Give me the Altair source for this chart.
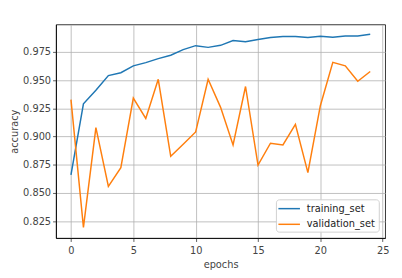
import altair as alt
import pandas as pd

epochs = list(range(25))
training_set = [0.866, 0.929, 0.941, 0.954, 0.9565, 0.9626, 0.9655, 0.969, 0.972, 0.977,
                0.9805, 0.979, 0.9808, 0.985, 0.984, 0.986, 0.9877, 0.9886, 0.9886, 0.9877,
                0.9889, 0.988, 0.9891, 0.989, 0.9906]
validation_set = [0.9327, 0.8194, 0.9079, 0.8558, 0.8723, 0.934, 0.916, 0.9507, 0.8824, 0.8931,
                  0.904, 0.9507, 0.9258, 0.8925, 0.9443, 0.8746, 0.894, 0.8925, 0.9108, 0.868,
                  0.9273, 0.9657, 0.9626, 0.949, 0.9576]
series_names = ["training_set", "validation_set"]
colors = ["#1f77b4", "#ff7f0e"]
x_ticks = [0, 5, 10, 15, 20, 25]
y_ticks = [0.825, 0.85, 0.875, 0.9, 0.925, 0.95, 0.975]

df = pd.concat([
    pd.DataFrame({"epochs": epochs, "accuracy": training_set, "series": series_names[0]}),
    pd.DataFrame({"epochs": epochs, "accuracy": validation_set, "series": series_names[1]}),
])

lines = alt.Chart(df).mark_line(strokeWidth=1.5).encode(
    x=alt.X("epochs:Q", scale=alt.Scale(domain=[-1.2, 25.2], nice=False, zero=False),
            axis=alt.Axis(values=x_ticks, title="epochs", format="d")),
    y=alt.Y("accuracy:Q", scale=alt.Scale(domain=[0.810, 0.9993], nice=False, zero=False),
            axis=alt.Axis(values=y_ticks, title="accuracy", format=".3f")),
    color=alt.Color("series:N", scale=alt.Scale(domain=series_names, range=colors), legend=None),
)

one = pd.DataFrame({"k": [0]})
box = alt.Chart(one).mark_rect(fill="white", stroke="#cccccc", strokeWidth=1,
                               cornerRadius=3, opacity=0.9).encode(
    x=alt.value(225), x2=alt.value(330), y=alt.value(179), y2=alt.value(212))

legend_layers = [box]
for i, (name, col) in enumerate(zip(series_names, colors)):
    yy = 188 + 16 * i
    d = pd.DataFrame({"series": [name]})
    legend_layers.append(alt.Chart(d).mark_rule(color=col, strokeWidth=1.5).encode(
        x=alt.value(227), x2=alt.value(249), y=alt.value(yy)))
    legend_layers.append(alt.Chart(d).mark_text(align="left", baseline="middle", fontSize=10,
                                               font="DejaVu Sans", color="#222").encode(
        x=alt.value(256), y=alt.value(yy), text="series:N"))

chart = alt.layer(lines, *legend_layers).properties(
    width=336, height=218,
    autosize=alt.AutoSizeParams(type="none"),
    padding={"left": 49, "top": 14, "right": 9, "bottom": 38},
).configure_view(
    stroke="black", strokeWidth=0.8
).configure_axis(
    grid=True, gridColor="#b0b0b0", gridWidth=0.8,
    domainColor="black", domainWidth=0.8,
    tickColor="#333", tickSize=3.5, tickWidth=0.8,
    labelFont="DejaVu Sans", labelFontSize=10, labelColor="#444", labelPadding=2,
    titleFont="DejaVu Sans", titleFontSize=10, titleFontWeight="normal", titleColor="#444",
).configure_axisY(titlePadding=3).configure_axisX(titlePadding=5, labelPadding=4)

chart.save("out.html", embed_options={"renderer": "svg", "actions": False})
